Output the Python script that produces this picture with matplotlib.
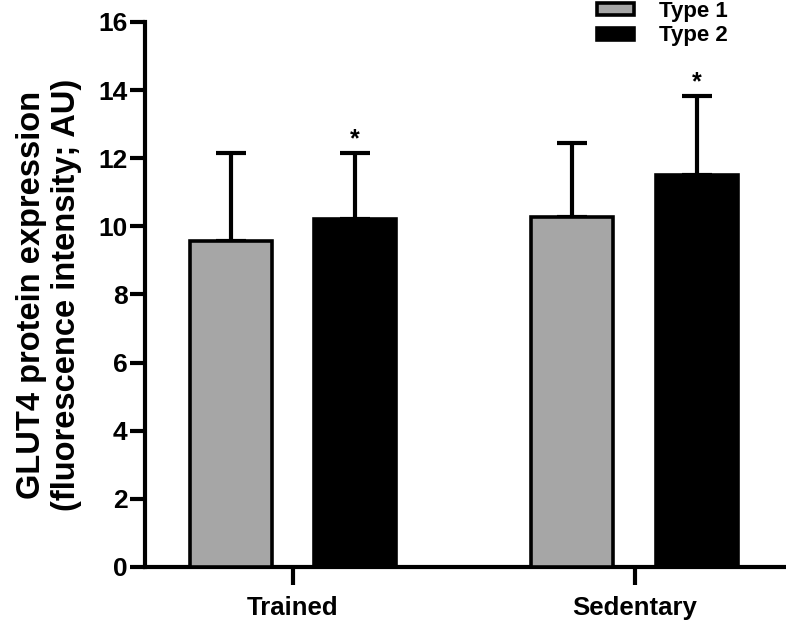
import numpy as np
import matplotlib.pyplot as plt

plt.rcParams['font.family'] = ['Liberation Sans', 'DejaVu Sans']
plt.rcParams['font.weight'] = 'bold'

groups = ['Trained', 'Sedentary']
series = ['Type 1', 'Type 2']
means = {'Type 1': [9.57, 10.27], 'Type 2': [10.22, 11.51]}
sds = {'Type 1': [2.58, 2.18], 'Type 2': [1.93, 2.32]}
stars = {'Type 1': ['', ''], 'Type 2': ['*', '*']}
colors = {'Type 1': '#a6a6a6', 'Type 2': '#000000'}

fig = plt.figure(figsize=(7.86, 6.23), dpi=100)
ax = fig.add_axes([0.1845, 0.0899, 0.8142, 0.8748])

x = np.arange(len(groups))
offsets = {'Type 1': -0.182, 'Type 2': 0.182}
width = 0.24

for s in series:
    xs = x + offsets[s]
    ax.bar(xs, means[s], width, color=colors[s], edgecolor='black',
           linewidth=2.6, label=s, zorder=3)
    ax.errorbar(xs, means[s], yerr=[np.zeros(len(groups)), sds[s]],
                fmt='none', ecolor='black', elinewidth=3, capsize=11,
                capthick=3, zorder=2)
    for xi, m, e, t in zip(xs, means[s], sds[s], stars[s]):
        if t:
            ax.text(xi, m + e + 0.4, t, ha='center', va='center',
                    fontsize=18, fontweight='bold')

ax.set_xlim(-0.433, 1.44)
ax.set_ylim(0, 16)
ax.set_yticks(np.arange(0, 17, 2))
ax.set_xticks(x)
ax.set_xticklabels(groups)
ax.tick_params(axis='y', length=11, width=3, labelsize=19, pad=1.5)
ax.tick_params(axis='x', length=13, width=3, labelsize=18.5, pad=8)
for sp in ['top', 'right']:
    ax.spines[sp].set_visible(False)
for sp in ['left', 'bottom']:
    ax.spines[sp].set_linewidth(3)

ax.set_ylabel('GLUT4 protein expression\n(fluorescence intensity; AU)',
              fontsize=23.5, fontweight='bold', labelpad=12, linespacing=1.15)

leg = ax.legend(loc='upper left', bbox_to_anchor=(0.745, 1.016),
                bbox_transform=fig.transFigure, frameon=False, borderpad=0,
                fontsize=16, handlelength=1.7, handleheight=0.45,
                labelspacing=0.15, handletextpad=1.1)

fig.savefig('out.png', dpi=100)
